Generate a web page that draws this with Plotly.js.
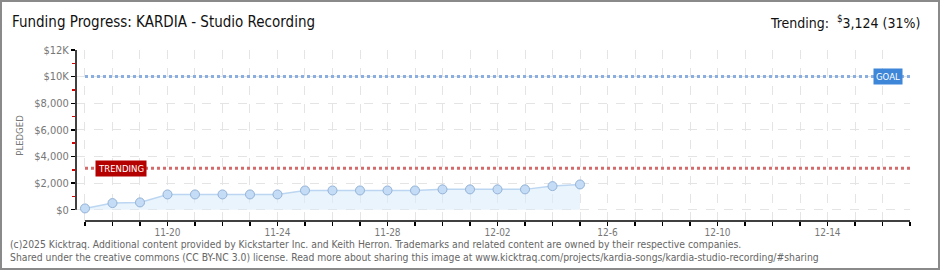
<!DOCTYPE html>
<html><head><meta charset="utf-8">
<script src="https://cdn.plot.ly/plotly-3.0.1.min.js"></script>
<style>
html,body{margin:0;padding:0;background:#fff;}
#wrap{position:relative;width:940px;height:270px;}
#chart{width:940px;height:270px;}
#frame{position:absolute;left:0;top:0;width:936px;height:266px;border:2px solid #8a8a8a;pointer-events:none;}
</style></head>
<body><div id="wrap"><div id="chart"></div><div id="frame"></div></div>
<script>
const dates = ['2025-11-17','2025-11-18','2025-11-19','2025-11-20','2025-11-21','2025-11-22','2025-11-23','2025-11-24','2025-11-25','2025-11-26','2025-11-27','2025-11-28','2025-11-29','2025-11-30','2025-12-01','2025-12-02','2025-12-03','2025-12-04','2025-12-05'];
const pledged = [100,500,550,1150,1150,1150,1150,1150,1450,1450,1450,1450,1450,1530,1530,1530,1530,1775,1900];
const goal = 10000;
const trending = 3124;
const axisStart = '2025-11-17';
const axisEnd = '2025-12-17';
const xLabelDays = ['2025-11-20','2025-11-24','2025-11-28','2025-12-02','2025-12-06','2025-12-10','2025-12-14'];
const xLabelText = ['11-20','11-24','11-28','12-02','12-6','12-10','12-14'];
const yTickVals = [0,2000,4000,6000,8000,10000,12000];
const yTickText = ['$0','$2,000','$4,000','$6,000','$8,000','$10K','$12K'];
const yMinorVals = [1000,3000,5000,7000,9000,11000];
const titleText = 'Funding Progress: KARDIA - Studio Recording';
const trendText = 'Trending:  <sup>$</sup>3,124 (31%)';
const footer1 = '(c)2025 Kicktraq. Additional content provided by Kickstarter Inc. and Keith Herron. Trademarks and related content are owned by their respective companies.';
const footer2 = 'Shared under the creative commons (CC BY-NC 3.0) license. Read more about sharing this image at www.kicktraq.com/projects/kardia-songs/kardia-studio-recording/#sharing';

const DAY = 86400000;
const t0 = Date.parse(axisStart+'T00:00:00Z');
const t1 = Date.parse(axisEnd+'T00:00:00Z');
const allDays = [];
for (let t = t0; t <= t1; t += DAY) allDays.push(new Date(t).toISOString().slice(0,10));
const FONT = '"DejaVu Sans Condensed", "DejaVu Sans", sans-serif';

const traces = [{
  x: dates, y: pledged, type: 'scatter', mode: 'lines+markers',
  fill: 'tozeroy', fillcolor: 'rgba(220,236,252,0.6)',
  line: {color: '#bcd6f2', width: 1.5},
  marker: {size: 9, color: '#c4dcf6', line: {color: '#93b2d6', width: 1}},
  hoverinfo: 'skip'
}];

const layout = {
  width: 940, height: 270,
  margin: {l: 76, r: 30, t: 50, b: 49},
  paper_bgcolor: '#fff', plot_bgcolor: '#fff',
  showlegend: false,
  font: {family: FONT, color: '#777'},
  xaxis: {
    type: 'date',
    range: [t0 - 0.327*DAY, t1],
    tickmode: 'array', tickvals: xLabelDays, ticktext: xLabelText,
    ticks: 'outside', ticklen: 4, tickcolor: '#000', tickwidth: 1.5,
    ticklabelstandoff: -2,
    minor: {tickmode: 'array', tickvals: allDays, ticks: 'outside', ticklen: 4, tickcolor: '#000', tickwidth: 1.5,
            showgrid: true, gridcolor: '#e4e4e4', griddash: 'dash', gridwidth: 1},
    showline: false, zeroline: false,
    showgrid: true, gridcolor: '#e4e4e4', griddash: 'dash', gridwidth: 1,
    tickfont: {family: FONT, size: 10, color: '#777'}, tickangle: 0
  },
  yaxis: {
    range: [-846, 12000],
    tickmode: 'array', tickvals: yTickVals, ticktext: yTickText,
    ticks: 'outside', ticklen: 4, tickcolor: '#000', tickwidth: 1.5,
    minor: {tickmode: 'array', tickvals: yMinorVals, ticks: 'outside', ticklen: 3, tickcolor: '#e00000', showgrid: false},
    showline: false, zeroline: false,
    showgrid: true, gridcolor: '#e4e4e4', griddash: 'dash', gridwidth: 1,
    tickfont: {family: FONT, size: 11, color: '#777'},
    title: {text: 'PLEDGED', font: {family: FONT, size: 9.5, color: '#777'}, standoff: 8}
  },
  shapes: [
    {type: 'line', xref: 'paper', yref: 'y', x0: 0, x1: 0, y0: 0, y1: 12000, line: {color: '#000', width: 1.5}},
    {type: 'line', xref: 'x', yref: 'paper', x0: t0, x1: t1, y0: 0, y1: 0, line: {color: '#000', width: 1.5}},
    {type: 'line', xref: 'x', yref: 'y', x0: t0, x1: t1, y0: goal, y1: goal, line: {color: '#8aaee0', width: 3, dash: 'dot'}},
    {type: 'line', xref: 'x', yref: 'y', x0: t0, x1: t1, y0: trending, y1: trending, line: {color: '#d46a6a', width: 3, dash: 'dot'}}
  ],
  annotations: [
    {text: titleText, xref: 'paper', yref: 'paper', x: -76/834, y: 1, xanchor: 'left', yanchor: 'bottom', yshift: 17, xshift: 10, showarrow: false, font: {family: FONT, size: 15, color: '#111'}},
    {text: trendText, xref: 'paper', yref: 'paper', x: 1, y: 1, xanchor: 'right', yanchor: 'bottom', yshift: 17, xshift: 12, showarrow: false, font: {family: FONT, size: 14, color: '#111'}},
    {text: 'GOAL', xref: 'x', yref: 'y', x: t0 + 29.2*DAY, y: goal, showarrow: false, bgcolor: '#3d86d8', borderpad: 2, font: {family: FONT, size: 9.5, color: '#fff'}},
    {text: 'TRENDING', xref: 'x', yref: 'y', x: t0 + 1.3*DAY, y: trending, showarrow: false, bgcolor: '#b50000', borderpad: 2, font: {family: FONT, size: 9.5, color: '#fff'}},
    {text: footer1, xref: 'paper', yref: 'paper', x: -76/834, y: 0, xanchor: 'left', yanchor: 'top', xshift: 8, yshift: -15, showarrow: false, font: {family: FONT, size: 10.3, color: '#666'}},
    {text: footer2, xref: 'paper', yref: 'paper', x: -76/834, y: 0, xanchor: 'left', yanchor: 'top', xshift: 8, yshift: -28, showarrow: false, font: {family: FONT, size: 10.3, color: '#666'}}
  ]
};
Plotly.newPlot('chart', traces, layout, {displayModeBar: false, staticPlot: true});
</script></body></html>
